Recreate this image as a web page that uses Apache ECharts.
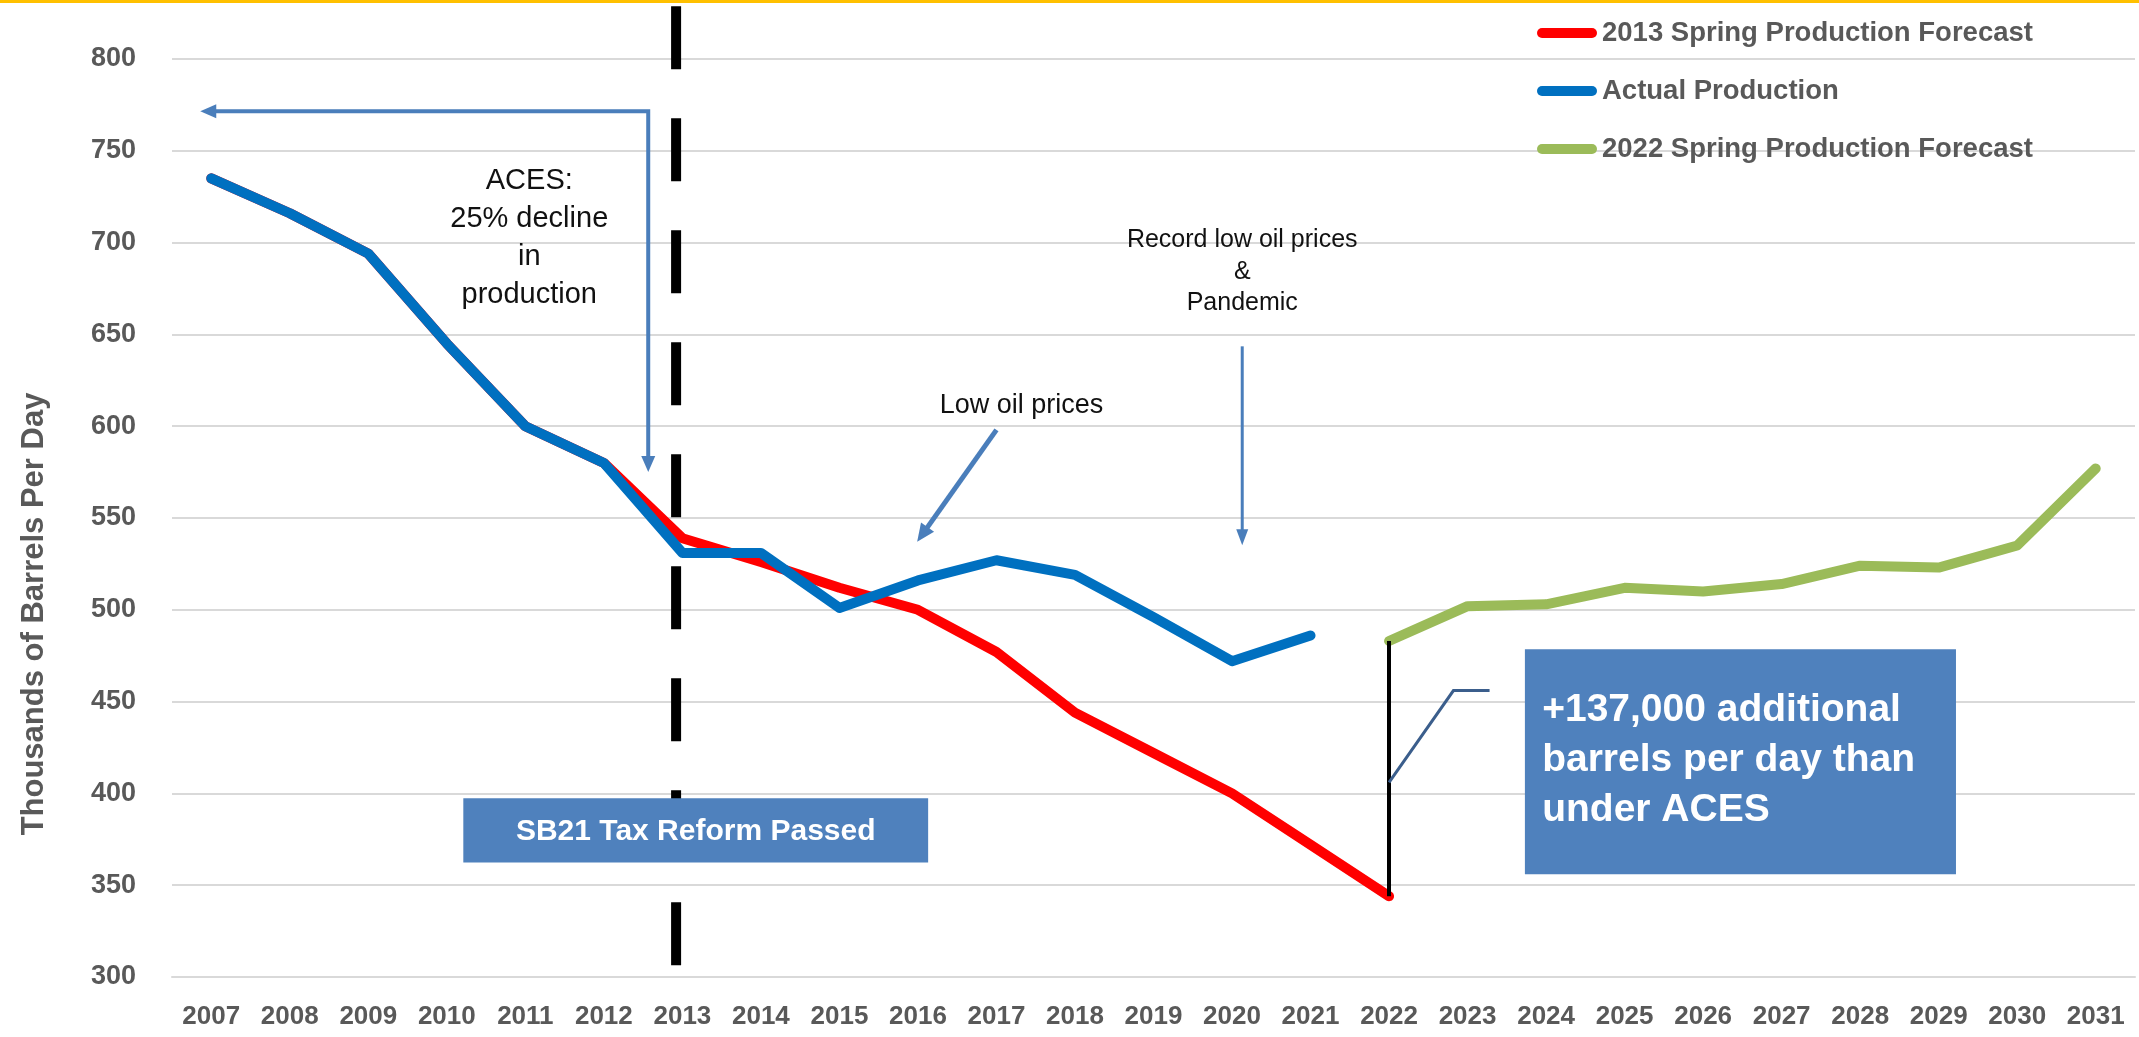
<!DOCTYPE html>
<html>
<head>
<meta charset="utf-8">
<script src="https://cdn.jsdelivr.net/npm/echarts/dist/echarts.min.js"></script>
<style>
html,body{margin:0;padding:0;background:#fff;}
#c{width:2139px;height:1037px;}
</style>
</head>
<body>
<div id="c"></div>
<script>
// ---- data ----
const years = ['2007','2008','2009','2010','2011','2012','2013','2014','2015','2016','2017','2018','2019',
               '2020','2021','2022','2023','2024','2025','2026','2027','2028','2029','2030','2031'];
const forecast2013 = [735, 716, 694, 645, 600, 580, 539, 526, 512, 500, 477, 444, 422, 400, 372, 344,
                      null, null, null, null, null, null, null, null, null];
const actualProduction = [735, 716, 694, 645, 600, 580, 531, 531, 501, 516, 527, 519, 496, 472, 486,
                          null, null, null, null, null, null, null, null, null, null];
const forecast2022 = [null, null, null, null, null, null, null, null, null, null, null, null, null, null, null,
                      483, 502, 503, 512, 510, 514, 524, 523, 535, 577];
const seriesNames = ['2013 Spring Production Forecast', 'Actual Production', '2022 Spring Production Forecast'];
const yMin = 300, yMax = 800, yStep = 50;

const FONT = '"Liberation Sans", Arial, sans-serif';
const GRAY = '#595959';
const chart = echarts.init(document.getElementById('c'), null, {renderer: 'canvas'});

const lineStyle = (c) => ({color: c, width: 10, cap: 'round', join: 'round'});

chart.setOption({
  animation: false,
  backgroundColor: '#ffffff',
  textStyle: {fontFamily: FONT},
  grid: {left: 172, right: 4, top: 59, bottom: 60, containLabel: false},
  legend: {
    orient: 'vertical', left: 1532, top: 13,
    itemWidth: 60, itemHeight: 10, itemGap: 28,
    icon: 'path://M5,0 H55 A5,5 0 0 1 55,10 H5 A5,5 0 0 1 5,0 Z',
    textStyle: {fontSize: 27.5, fontWeight: 'bold', color: GRAY, lineHeight: 30, fontFamily: FONT},
    data: seriesNames
  },
  xAxis: {
    type: 'category', data: years, boundaryGap: true,
    axisLine: {show: true, lineStyle: {color: '#D9D9D9', width: 2}},
    axisTick: {show: false},
    axisLabel: {interval: 0, fontSize: 26, fontWeight: 'bold', color: GRAY, margin: 27, fontFamily: FONT}
  },
  yAxis: {
    type: 'value', min: yMin, max: yMax, interval: yStep,
    axisLine: {show: false}, axisTick: {show: false},
    splitLine: {lineStyle: {color: '#D9D9D9', width: 2}},
    axisLabel: {fontSize: 27, fontWeight: 'bold', color: GRAY, margin: 36, fontFamily: FONT}
  },
  series: [
    {name: seriesNames[0], type: 'line', data: forecast2013, symbol: 'none', color: '#FF0000',
     lineStyle: lineStyle('#FF0000'), silent: true},
    {name: seriesNames[1], type: 'line', data: actualProduction, symbol: 'none', color: '#0070C0',
     lineStyle: lineStyle('#0070C0'), silent: true},
    {name: seriesNames[2], type: 'line', data: forecast2022, symbol: 'none', color: '#9BBB59',
     lineStyle: lineStyle('#9BBB59'), silent: true,
     markLine: {
       silent: true, symbol: 'none', label: {show: false},
       lineStyle: {color: '#000000', width: 4, type: 'solid'},
       emphasis: {disabled: true},
       data: [[{coord: [years[15], forecast2022[15]]}, {coord: [years[15], forecast2013[15]]}]]
     }}
  ]
});

// ---- annotations anchored in data space ----
const pa = chart.convertToPixel({xAxisIndex: 0, yAxisIndex: 0}, [0, yMin]);
const pb = chart.convertToPixel({xAxisIndex: 0, yAxisIndex: 0}, [1, yMax]);
const X = (i) => pa[0] + i * (pb[0] - pa[0]);
const Y = (v) => pa[1] + (v - yMin) * (pb[1] - pa[1]) / (yMax - yMin);

function head(tx, ty, fx, fy, len, half, color) {
  const dx = tx - fx, dy = ty - fy, d = Math.sqrt(dx * dx + dy * dy);
  const ux = dx / d, uy = dy / d;
  const bx = tx - ux * len, by = ty - uy * len;
  return {type: 'polygon', z: 20, shape: {points: [[tx, ty], [bx - uy * half, by + ux * half], [bx + uy * half, by - ux * half]]},
          style: {fill: color}};
}
const ARW = '#4A7EBB';
const g = [];
// yellow rule at the top
g.push({type: 'rect', z: 30, shape: {x: 0, y: 0, width: 2139, height: 3}, style: {fill: '#FFC000'}});
// dashed SB21 marker
g.push({type: 'line', z: 5, shape: {x1: X(5.92), y1: Y(828.7), x2: X(5.92), y2: Y(306.4)},
        style: {stroke: '#000', lineWidth: 10, lineDash: [63, 49]}});
// ACES bracket arrow
const ax = X(5.565), ay = Y(771.5), aTipX = X(-0.14), aTipY = Y(575);
g.push({type: 'polyline', z: 20, shape: {points: [[aTipX + 14, ay], [ax, ay], [ax, aTipY - 14]]},
        style: {stroke: ARW, lineWidth: 4, fill: null}});
g.push(head(aTipX, ay, ax, ay, 16, 7, ARW));
g.push(head(ax, aTipY, ax, ay, 16, 7, ARW));
g.push({type: 'text', z: 20, style: {text: 'ACES:\n25% decline\nin\nproduction', x: X(4.05), y: Y(702.6),
        align: 'center', verticalAlign: 'middle', lineHeight: 38, fontSize: 29, fontFamily: FONT, fill: '#111'}});
// Low oil prices
const l0x = X(10.0), l0y = Y(598), l1x = X(8.99), l1y = Y(537);
g.push({type: 'line', z: 20, shape: {x1: l0x, y1: l0y, x2: l1x + (l0x - l1x) * 0.12, y2: l1y + (l0y - l1y) * 0.12},
        style: {stroke: ARW, lineWidth: 5}});
g.push(head(l1x, l1y, l0x, l0y, 18, 8, ARW));
g.push({type: 'text', z: 20, style: {text: 'Low oil prices', x: X(10.32), y: Y(611.4), align: 'center', verticalAlign: 'middle',
        fontSize: 27, fontFamily: FONT, fill: '#111'}});
// Record low / pandemic
const px = X(13.13), p0y = Y(643.5), p1y = Y(535.2);
g.push({type: 'line', z: 20, shape: {x1: px, y1: p0y, x2: px, y2: p1y - 12}, style: {stroke: ARW, lineWidth: 3}});
g.push(head(px, p1y, px, p0y, 16, 6, ARW));
g.push({type: 'text', z: 20, style: {text: 'Record low oil prices\n&\nPandemic', x: px, y: Y(684.1), align: 'center',
        verticalAlign: 'middle', lineHeight: 31.5, fontSize: 25, fontFamily: FONT, fill: '#111'}});
// SB21 box
const s0x = X(3.21), s1x = X(9.13), s0y = Y(397.4), s1y = Y(362.4);
g.push({type: 'rect', z: 25, shape: {x: s0x, y: s0y, width: s1x - s0x, height: s1y - s0y}, style: {fill: '#4F81BD'}});
g.push({type: 'text', z: 26, style: {text: 'SB21 Tax Reform Passed', x: (s0x + s1x) / 2, y: (s0y + s1y) / 2 + 1,
        align: 'center', verticalAlign: 'middle', fontSize: 30, fontWeight: 'bold', fontFamily: FONT, fill: '#fff'}});
// +137,000 box
const b0x = X(16.73), b1x = X(22.22), b0y = Y(478.5), b1y = Y(356);
g.push({type: 'rect', z: 25, shape: {x: b0x, y: b0y, width: b1x - b0x, height: b1y - b0y}, style: {fill: '#4F81BD'}});
g.push({type: 'text', z: 26, style: {text: '+137,000 additional\nbarrels per day than\nunder ACES', x: X(16.95), y: Y(449.7) - 17,
        align: 'left', verticalAlign: 'top', lineHeight: 50, fontSize: 39, fontWeight: 'bold', fontFamily: FONT, fill: '#fff'}});
// connector
g.push({type: 'polyline', z: 20, shape: {points: [[X(15), Y(406)], [X(15.82), Y(456)], [X(16.28), Y(456)]]},
        style: {stroke: '#3B5E8C', lineWidth: 3, fill: null}});
// y-axis title
g.push({type: 'text', z: 20, x: 34, y: 614, rotation: Math.PI / 2,
        style: {text: 'Thousands of Barrels Per Day', x: 0, y: 0, align: 'center', verticalAlign: 'middle',
        fontSize: 31, fontWeight: 'bold', fontFamily: FONT, fill: GRAY}});

chart.setOption({graphic: g});
</script>
</body>
</html>
